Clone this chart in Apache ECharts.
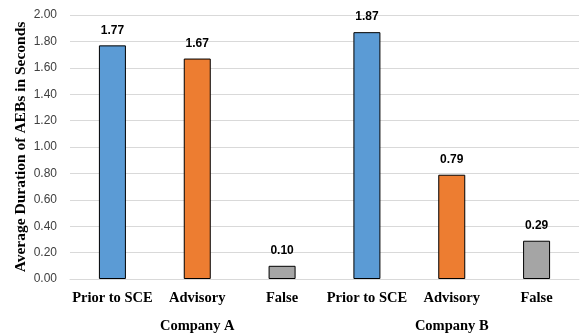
<!DOCTYPE html>
<html>
<head>
<meta charset="utf-8">
<script src="https://cdn.jsdelivr.net/npm/echarts@6/dist/echarts.min.js"></script>
<style>
  html, body { margin: 0; padding: 0; background: #fff; }
  #chart { width: 581px; height: 335px; }
</style>
</head>
<body>
<div id="chart"></div>
<script>
// Average AEB duration per alert type, grouped by company
const categories = ['Prior to SCE', 'Advisory', 'False', 'Prior to SCE', 'Advisory', 'False'];
const companies = ['Company A', 'Company B'];
const companyA = [1.77, 1.67, 0.10];
const companyB = [1.87, 0.79, 0.29];
const yTicks = [0, 0.2, 0.4, 0.6, 0.8, 1.0, 1.2, 1.4, 1.6, 1.8, 2.0];

const typeColors = ['#5B9BD5', '#ED7D31', '#A5A5A5'];
const values = companyA.concat(companyB);
const barData = values.map((v, i) => ({
  value: v,
  itemStyle: { color: typeColors[i % 3] }
}));

const chart = echarts.init(document.getElementById('chart'));
chart.setOption({
  animation: false,
  grid: { left: 70, right: 2, top: 15, bottom: 56, outerBoundsMode: 'none' },
  xAxis: [
    {
      type: 'category',
      data: categories,
      position: 'bottom',
      axisLine: { show: true, lineStyle: { color: '#D9D9D9', width: 1 } },
      axisTick: { show: false },
      axisLabel: {
        interval: 0,
        margin: 12,
        color: '#000',
        fontFamily: 'Liberation Serif',
        fontWeight: 'bold',
        fontSize: 14.5
      }
    },
    {
      type: 'category',
      data: companies,
      position: 'bottom',
      offset: 28,
      axisLine: { show: false },
      axisTick: { show: false },
      splitLine: { show: false },
      axisLabel: {
        interval: 0,
        margin: 12,
        color: '#000',
        fontFamily: 'Liberation Serif',
        fontWeight: 'bold',
        fontSize: 14.5
      }
    }
  ],
  yAxis: {
    type: 'value',
    min: yTicks[0],
    max: yTicks[yTicks.length - 1],
    interval: 0.2,
    name: 'Average Duration of AEBs in Seconds',
    nameLocation: 'middle',
    nameGap: 41,
    nameMoveOverlap: false,
    nameTextStyle: {
      color: '#000',
      fontFamily: 'Liberation Serif',
      fontWeight: 'bold',
      fontSize: 15.5
    },
    axisLine: { show: false },
    axisTick: { show: false },
    splitLine: { lineStyle: { color: '#D9D9D9', width: 1 } },
    axisLabel: {
      margin: 13,
      color: '#404040',
      fontFamily: 'Liberation Sans',
      fontSize: 12,
      formatter: v => v.toFixed(2)
    }
  },
  series: [
    {
      type: 'bar',
      xAxisIndex: 0,
      data: barData,
      barWidth: 27,
      itemStyle: { borderColor: '#000', borderWidth: 1 },
      label: {
        show: true,
        position: 'top',
        distance: 9,
        color: '#000',
        fontFamily: 'Liberation Sans',
        fontWeight: 'bold',
        fontSize: 12,
        formatter: p => p.value.toFixed(2)
      }
    }
  ]
});
</script>
</body>
</html>
